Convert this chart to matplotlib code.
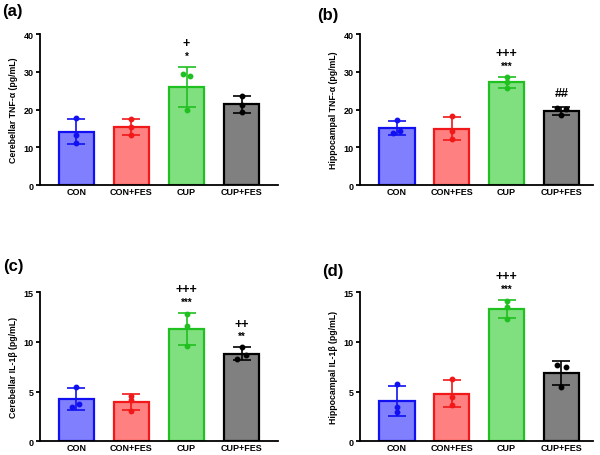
import numpy as np
import matplotlib
matplotlib.use("Agg")
import matplotlib.pyplot as plt

plt.rcParams['font.family'] = ['Liberation Sans', 'DejaVu Sans']
plt.rcParams['font.weight'] = 'bold'

groups = ["CON", "CON+FES", "CUP", "CUP+FES"]

# individual replicate values (3 per group)
tnf_cb = [[17.7, 13.3, 11.2], [17.5, 15.4, 13.3], [29.3, 28.8, 20.0], [23.6, 21.2, 19.3]]
tnf_hc = [[17.2, 14.2, 13.7], [18.2, 14.4, 12.3], [28.6, 27.3, 25.7], [20.4, 20.2, 18.5]]
il1_cb = [[5.5, 3.8, 3.5], [4.6, 4.2, 3.1], [12.8, 11.6, 9.6], [9.5, 8.7, 8.3]]
il1_hc = [[5.76, 3.41, 2.9], [6.3, 4.47, 3.64], [14.14, 13.48, 12.35], [7.7, 7.45, 5.43]]

# significance marks per group (lower row, upper row)
marks_a = [("", ""), ("", ""), ("*", "+"), ("", "")]
marks_b = [("", ""), ("", ""), ("***", "+++"), ("##", "")]
marks_c = [("", ""), ("", ""), ("***", "+++"), ("**", "++")]
marks_d = [("", ""), ("", ""), ("***", "+++"), ("", "")]

ylabels = ["Cerebellar TNF-α (pg/mL)", "Hippocampal TNF-α (pg/mL)",
           "Cerebellar IL-1β (pg/mL)", "Hippocampal IL-1β (pg/mL)"]

fills = ["#8080ff", "#ff8080", "#80e080", "#808080"]
edges = ["#1010f0", "#f01818", "#20c020", "#000000"]

# horizontal scatter of the dots inside each bar
jit_a = [[0.0, 0.0, 0.0], [0.0, 0.0, 0.0], [-0.07, 0.07, 0.0], [0.0, 0.0, 0.0]]
jit_b = [[0.0, 0.06, -0.08], [0.0, 0.0, 0.0], [0.0, 0.0, 0.0], [-0.08, 0.08, 0.0]]
jit_c = [[0.0, 0.05, -0.08], [0.0, 0.0, 0.0], [0.0, 0.0, 0.0], [0.0, 0.08, -0.08]]
jit_d = [[0.0, 0.0, 0.0], [0.0, 0.0, 0.0], [0.0, 0.0, 0.0], [-0.08, 0.08, 0.0]]

fig = plt.figure(figsize=(6, 4.56), dpi=100)

panels = [
    ("(a)", tnf_cb, marks_a, jit_a, ylabels[0], 40, 10, [0.0667, 0.592, 0.3967, 0.331], (-0.66, 3.66), (0.003, 0.992)),
    ("(b)", tnf_hc, marks_b, jit_b, ylabels[1], 40, 10, [0.600, 0.592, 0.388, 0.331], (-0.675, 3.575), (0.528, 0.982)),
    ("(c)", il1_cb, marks_c, jit_c, ylabels[2], 15, 5, [0.0667, 0.030, 0.3967, 0.327], (-0.66, 3.66), (0.005, 0.432)),
    ("(d)", il1_hc, marks_d, jit_d, ylabels[3], 15, 5, [0.600, 0.030, 0.388, 0.327], (-0.675, 3.575), (0.537, 0.421)),
]

for tag, data, marks, jitter, ylab, ymax, ystep, rect, xl, tagpos in panels:
    ax = fig.add_axes(rect)
    x = np.arange(len(groups))
    means = [np.mean(d) for d in data]
    sds = [np.std(d, ddof=1) for d in data]
    ax.bar(x, means, width=0.64, color=fills, edgecolor=edges, linewidth=1.6, zorder=2)
    for i in range(len(groups)):
        ax.errorbar(x[i], means[i], yerr=sds[i], color=edges[i], capsize=6.5,
                    elinewidth=1.2, capthick=1.2, zorder=3)
        ax.plot(x[i] + np.array(jitter[i]), data[i], 'o', color=edges[i],
                markersize=3.2, zorder=4)
        low, high = marks[i]
        top = means[i] + sds[i]
        if low:
            star = low.startswith('*')
            ax.annotate(low, (x[i], top), xytext=(0, 8 if star else 10),
                        textcoords='offset points', ha='center', va='center',
                        fontsize=7 if star else 9, fontweight='bold',
                        annotation_clip=False)
        if high:
            ax.annotate(high, (x[i], top), xytext=(0, 17), textcoords='offset points',
                        ha='center', va='center', fontsize=9, fontweight='bold',
                        annotation_clip=False)
    ax.set_xlim(*xl)
    ax.set_ylim(0, ymax)
    ax.set_yticks(np.arange(0, ymax + 1, ystep))
    ax.set_xticks(x)
    ax.set_xticklabels(groups, fontsize=6.5, fontweight='bold')
    ax.tick_params(axis='x', length=0, pad=1.5)
    ax.tick_params(axis='y', length=3, width=1.3, labelsize=6.5, pad=1.5)
    for lab in ax.get_yticklabels():
        lab.set_fontweight('bold')
    ax.set_ylabel(ylab, fontsize=6.3, fontweight='bold', labelpad=4)
    for s in ['top', 'right']:
        ax.spines[s].set_visible(False)
    for s in ['left', 'bottom']:
        ax.spines[s].set_linewidth(1.3)
    fig.text(tagpos[0], tagpos[1], tag, fontsize=12, fontweight='bold', ha='left', va='top')

fig.savefig("out.png", dpi=100)
